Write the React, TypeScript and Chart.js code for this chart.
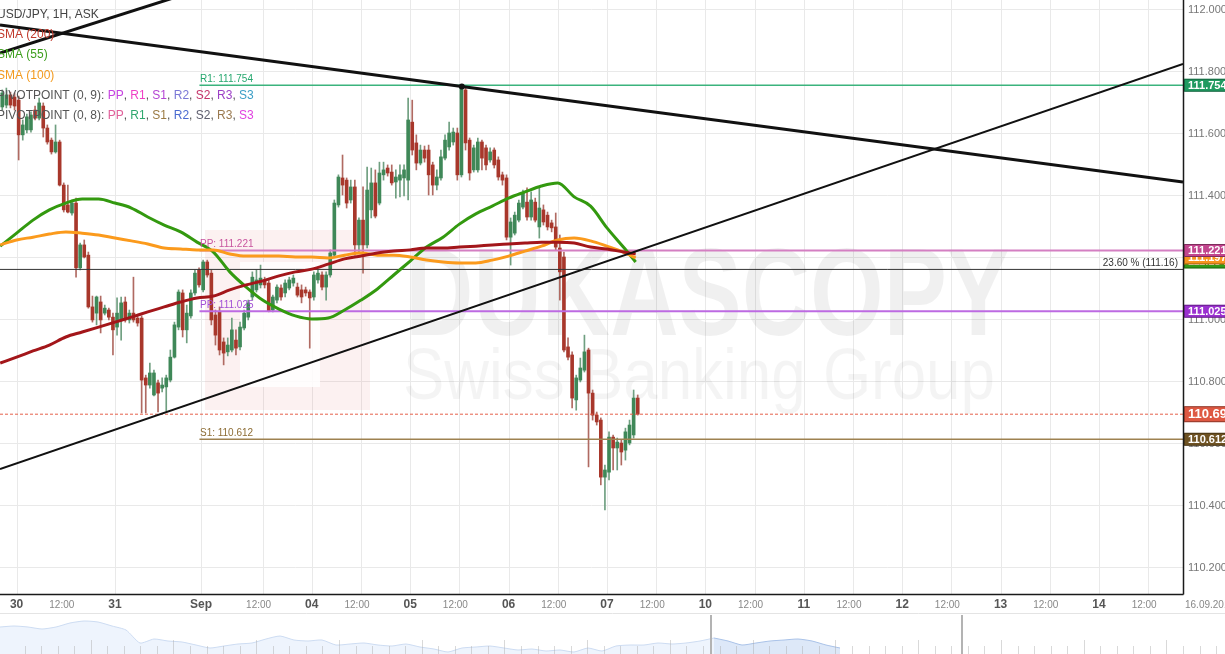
import React, { useEffect, useRef } from 'react';
import { Chart, registerables } from 'chart.js';

Chart.register(...registerables);

// ---- candle data (hourly, USD/JPY ask) ----
const FIRST_SLOT = -4; // slot of the first candle (hours from 30 Aug 00:00, weekend removed)

const opens = [
  111.684, 111.690, 111.723, 111.716, 111.706, 111.594, 111.610, 111.610, 111.674, 111.648,
  111.687, 111.616, 111.577, 111.539, 111.571, 111.432, 111.368, 111.342, 111.374, 111.165,
  111.239, 111.206, 111.039, 111.019, 111.055, 111.019, 111.029, 111.006, 110.974, 110.997,
  111.055, 110.997, 111.019, 111.003, 111.003, 110.810, 110.787, 110.755, 110.794, 110.777,
  110.781, 110.803, 110.877, 110.974, 111.084, 110.965, 111.010, 111.084, 111.158, 111.094,
  111.184, 111.148, 111.013, 111.023, 110.926, 110.894, 110.900, 110.932, 110.910, 110.971,
  111.006, 111.071, 111.094, 111.110, 111.126, 111.116, 111.029, 111.061, 111.100, 111.084,
  111.100, 111.116, 111.103, 111.094, 111.094, 111.087, 111.071, 111.126, 111.142, 111.103,
  111.142, 111.206, 111.368, 111.455, 111.448, 111.384, 111.426, 111.239, 111.319, 111.239,
  111.352, 111.439, 111.374, 111.465, 111.487, 111.474, 111.442, 111.448, 111.455, 111.448,
  111.635, 111.568, 111.503, 111.545, 111.545, 111.497, 111.432, 111.455, 111.519, 111.555,
  111.571, 111.600, 111.465, 111.739, 111.577, 111.481, 111.481, 111.571, 111.552, 111.513,
  111.545, 111.513, 111.465, 111.455, 111.264, 111.277, 111.319, 111.361, 111.377, 111.329,
  111.377, 111.297, 111.352, 111.335, 111.310, 111.297, 111.229, 111.200, 110.910, 110.884,
  110.739, 110.803, 110.835, 110.900, 110.761, 110.690, 110.674, 110.490, 110.506, 110.619,
  110.584, 110.600, 110.577, 110.600, 110.626, 110.745,
];
const highs = [
  111.739, 111.745, 111.732, 111.729, 111.719, 111.642, 111.661, 111.668, 111.687, 111.713,
  111.697, 111.626, 111.584, 111.626, 111.577, 111.439, 111.432, 111.384, 111.390, 111.245,
  111.255, 111.216, 111.074, 111.074, 111.074, 111.045, 111.035, 111.019, 111.068, 111.071,
  111.071, 111.029, 111.135, 111.013, 111.010, 110.819, 110.858, 110.835, 110.803, 110.810,
  110.819, 110.900, 110.990, 111.094, 111.094, 111.045, 111.094, 111.158, 111.165, 111.190,
  111.190, 111.158, 111.029, 111.039, 110.939, 110.939, 111.003, 110.965, 110.990, 111.029,
  111.061, 111.152, 111.158, 111.174, 111.135, 111.126, 111.077, 111.110, 111.110, 111.126,
  111.135, 111.142, 111.116, 111.110, 111.103, 111.094, 111.152, 111.158, 111.152, 111.152,
  111.223, 111.384, 111.465, 111.529, 111.455, 111.448, 111.448, 111.326, 111.426, 111.490,
  111.487, 111.481, 111.506, 111.506, 111.497, 111.497, 111.481, 111.497, 111.497, 111.713,
  111.706, 111.594, 111.561, 111.558, 111.561, 111.506, 111.481, 111.545, 111.594, 111.635,
  111.616, 111.616, 111.752, 111.745, 111.584, 111.561, 111.584, 111.577, 111.561, 111.552,
  111.552, 111.523, 111.474, 111.465, 111.326, 111.345, 111.384, 111.416, 111.423, 111.410,
  111.390, 111.423, 111.368, 111.345, 111.319, 111.342, 111.271, 111.216, 110.939, 110.894,
  110.819, 110.874, 110.948, 110.906, 110.771, 110.700, 110.681, 110.529, 110.636, 110.626,
  110.616, 110.610, 110.648, 110.674, 110.771, 110.755,
];
const lows = [
  111.674, 111.681, 111.681, 111.674, 111.513, 111.577, 111.600, 111.603, 111.642, 111.642,
  111.587, 111.564, 111.532, 111.535, 111.429, 111.345, 111.342, 111.335, 111.135, 111.158,
  111.197, 111.035, 110.990, 110.981, 110.955, 111.013, 110.997, 110.884, 110.948, 110.932,
  110.990, 110.987, 110.990, 110.977, 110.697, 110.697, 110.777, 110.752, 110.700, 110.765,
  110.703, 110.797, 110.874, 110.965, 110.942, 110.923, 111.003, 111.077, 111.103, 111.087,
  111.135, 110.981, 110.916, 110.884, 110.852, 110.881, 110.894, 110.884, 110.900, 110.965,
  110.997, 111.061, 111.087, 111.100, 111.100, 111.023, 111.023, 111.052, 111.061, 111.071,
  111.094, 111.106, 111.071, 111.052, 111.074, 110.906, 111.061, 111.116, 111.094, 111.061,
  111.135, 111.200, 111.361, 111.400, 111.358, 111.374, 111.206, 111.216, 111.148, 111.229,
  111.326, 111.326, 111.368, 111.448, 111.461, 111.432, 111.390, 111.394, 111.397, 111.384,
  111.529, 111.481, 111.497, 111.506, 111.400, 111.400, 111.416, 111.448, 111.513, 111.545,
  111.561, 111.448, 111.458, 111.545, 111.448, 111.474, 111.474, 111.481, 111.481, 111.506,
  111.487, 111.448, 111.432, 111.255, 111.174, 111.271, 111.313, 111.355, 111.319, 111.319,
  111.313, 111.261, 111.303, 111.287, 111.281, 111.223, 111.061, 110.894, 110.868, 110.713,
  110.706, 110.797, 110.829, 110.523, 110.674, 110.658, 110.465, 110.384, 110.481, 110.513,
  110.513, 110.529, 110.545, 110.594, 110.616, 110.690,
];
const closes = [
  111.729, 111.723, 111.690, 111.687, 111.594, 111.626, 111.652, 111.658, 111.648, 111.697,
  111.616, 111.571, 111.539, 111.571, 111.432, 111.352, 111.345, 111.374, 111.165, 111.239,
  111.200, 111.039, 110.997, 111.071, 110.997, 111.035, 111.006, 110.965, 111.019, 111.052,
  110.997, 111.019, 110.997, 110.987, 110.803, 110.787, 110.826, 110.826, 110.761, 110.787,
  110.810, 110.877, 110.981, 111.087, 110.965, 111.019, 111.084, 111.148, 111.110, 111.184,
  111.142, 110.997, 110.948, 110.900, 110.890, 110.916, 110.965, 110.906, 110.974, 111.019,
  111.052, 111.135, 111.126, 111.132, 111.110, 111.026, 111.071, 111.103, 111.071, 111.116,
  111.126, 111.132, 111.077, 111.071, 111.084, 111.068, 111.142, 111.148, 111.103, 111.142,
  111.213, 111.374, 111.458, 111.432, 111.374, 111.426, 111.239, 111.319, 111.239, 111.416,
  111.439, 111.332, 111.471, 111.481, 111.471, 111.439, 111.458, 111.465, 111.481, 111.642,
  111.545, 111.503, 111.545, 111.519, 111.465, 111.432, 111.458, 111.523, 111.577, 111.600,
  111.603, 111.465, 111.745, 111.568, 111.471, 111.552, 111.571, 111.519, 111.497, 111.539,
  111.497, 111.458, 111.448, 111.264, 111.313, 111.335, 111.374, 111.406, 111.329, 111.384,
  111.319, 111.358, 111.313, 111.297, 111.294, 111.232, 111.152, 110.900, 110.877, 110.745,
  110.810, 110.842, 110.894, 110.761, 110.690, 110.668, 110.490, 110.513, 110.619, 110.584,
  110.603, 110.571, 110.636, 110.658, 110.745, 110.693,
];

// ---- moving averages, read at sample slots ----
const smaSlots = [-4, 0, 4, 8, 12, 16, 20, 24, 28, 32, 36, 40, 44, 48, 52, 56, 60, 64, 68, 72,
  76, 80, 84, 88, 92, 96, 100, 104, 108, 112, 116, 120, 124, 128, 132, 136, 140, 144, 148, 151];
const sma200 = [110.858, 110.877, 110.897, 110.916, 110.942, 110.958, 110.974, 110.990, 111.006, 111.023,
  111.039, 111.055, 111.068, 111.074, 111.094, 111.110, 111.123, 111.139, 111.152, 111.161,
  111.177, 111.194, 111.203, 111.213, 111.219, 111.223, 111.229, 111.229, 111.232, 111.235,
  111.239, 111.242, 111.245, 111.248, 111.248, 111.245, 111.232, 111.226, 111.216, 111.210];
const sma55 = [111.235, 111.277, 111.319, 111.352, 111.374, 111.387, 111.387, 111.374, 111.358, 111.329,
  111.303, 111.281, 111.248, 111.216, 111.152, 111.103, 111.061, 111.032, 111.010, 111.000,
  111.003, 111.029, 111.061, 111.097, 111.142, 111.187, 111.232, 111.264, 111.306, 111.339,
  111.364, 111.390, 111.410, 111.429, 111.439, 111.394, 111.364, 111.294, 111.232, 111.184];
const sma100 = [111.239, 111.255, 111.264, 111.274, 111.281, 111.277, 111.271, 111.261, 111.252, 111.242,
  111.229, 111.226, 111.223, 111.223, 111.210, 111.203, 111.203, 111.203, 111.200, 111.200,
  111.197, 111.206, 111.213, 111.206, 111.206, 111.200, 111.190, 111.184, 111.181, 111.181,
  111.190, 111.203, 111.219, 111.235, 111.255, 111.261, 111.252, 111.235, 111.216, 111.197];

// ---- levels ----
const pivotNames = ['R1', 'PP', 'PP', 'S1'];
const pivotLevels = [111.754, 111.221, 111.025, 110.612];
const pivotLineColors = ['#3bb37d', '#d47fc2', '#bd6ae2', '#9e8150'];
const pivotTextColors = ['#27a86f', '#c8559f', '#a24fd6', '#8d6d35'];
const pivotBoxColors = ['#1f9a60', '#c2458e', '#9a30cf', '#6e5222'];
const PIVOT_START = 44.6;
const lastPrice = 110.693;
const fibLevel = 111.16;
const fibLabel = '23.60 % (111.16)';

// trend lines [slot, price]
const downTrendSlots = [-4.05, 108.6, 284.5];
const downTrendPrices = [111.948, 111.750, 111.442];
const upTrendSlots = [-4.05, 284.5];
const upTrendPrices = [110.516, 111.823];
const channelSlots = [-4.05, 70];
const channelPrices = [111.858, 112.169];

// ---- axes ----
const X_MIN = -4.05;
const X_MAX = 284.5;
const Y_MIN = 110.113;
const Y_MAX = 112.029;
const yTickValues = [110.2, 110.4, 110.6, 110.8, 111.0, 111.2, 111.4, 111.6, 111.8, 112.0];
const xTickSlots = [0, 12, 24, 45, 60, 72, 84, 96, 108, 120, 132, 144, 156, 168, 180, 192, 204, 216, 228, 240, 252, 264, 276];
const xTickLabels = ['30', '12:00', '31', 'Sep', '12:00', '04', '12:00', '05', '12:00', '06', '12:00', '07', '12:00',
  '10', '12:00', '11', '12:00', '12', '12:00', '13', '12:00', '14', '12:00'];
const gridSlots = [0, 24, 45, 60, 72, 84, 96, 108, 120, 132, 144, 156, 168, 180, 192, 204, 216, 228, 240, 252, 264, 276];
const rightDateLabel = '16.09.2018';

// ---- navigator ----
const navValues = [111.35, 111.40, 111.35, 111.25, 111.35, 111.55, 111.65, 111.60, 111.40, 111.20,
  110.55, 110.75, 110.65, 110.60, 110.45, 110.30, 110.40, 110.50, 110.55, 110.75,
  110.90, 110.70, 110.65, 110.70, 110.45, 110.50, 110.55, 110.45, 110.40, 110.50,
  110.35, 110.25, 110.10, 110.30, 110.35, 110.40, 110.30, 110.20, 110.25, 110.15,
  110.20, 110.10, 110.30, 110.15, 110.40, 110.45, 110.45, 110.55, 110.50, 110.55,
  110.65, 110.80, 110.65, 110.45, 110.55, 110.65, 110.70, 110.75, 110.65, 110.45, 110.30];
const NAV_WINDOW_START = 50.8;
const NAV_WINDOW_END = 68.7;
const NAV_X_MAX = 87.5;

const FONT = '"Liberation Sans", Arial, Helvetica, sans-serif';

export default function App() {
  const mainRef = useRef<HTMLCanvasElement | null>(null);
  const navRef = useRef<HTMLCanvasElement | null>(null);

  useEffect(() => {
    if (!mainRef.current || !navRef.current) return;
    const slotX = opens.map((_, i) => FIRST_SLOT + i + 0.5);
    const isUp = opens.map((o, i) => closes[i] >= o);

    const hline = (level: number, from: number, color: string, width: number, dash: number[] = [], order = 12) => ({
      type: 'line',
      data: [{ x: from, y: level }, { x: X_MAX, y: level }],
      borderColor: color,
      borderWidth: width,
      borderDash: dash,
      pointRadius: 0,
      fill: false,
      order,
      clip: 0,
    });
    const pts = (xs: number[], ys: number[]) => xs.map((x, i) => ({ x, y: ys[i] }));
    const smaLine = (vals: number[], color: string) => ({
      type: 'line',
      data: pts(smaSlots, vals),
      borderColor: color,
      borderWidth: 3,
      pointRadius: 0,
      cubicInterpolationMode: 'monotone',
      fill: false,
      order: 6,
      clip: 0,
    });

    const datasets: any[] = [
      {
        type: 'bar',
        data: slotX.map((x, i) => ({ x, y: [lows[i], highs[i]] })),
        backgroundColor: isUp.map((u) => (u ? '#6f9f80' : '#b06a62')),
        barThickness: 1,
        grouped: false,
        minBarLength: 1,
        order: 20,
      },
      {
        type: 'bar',
        data: slotX.map((x, i) => ({ x, y: [opens[i], closes[i]] })),
        backgroundColor: isUp.map((u) => (u ? '#3f8858' : '#a8372b')),
        barThickness: 3,
        grouped: false,
        minBarLength: 1,
        order: 19,
      },
      hline(fibLevel, X_MIN, '#333333', 1, [], 14),
      hline(lastPrice, X_MIN, '#e5604b', 1, [3, 2], 13),
      ...pivotLevels.map((lv, i) => hline(lv, PIVOT_START, pivotLineColors[i], i === 0 || i === 3 ? 1.5 : 2, [], 12)),
      smaLine(sma200, '#a3161a'),
      smaLine(sma100, '#fb9a1c'),
      smaLine(sma55, '#33990f'),
      {
        type: 'line', data: pts(upTrendSlots, upTrendPrices), borderColor: '#111', borderWidth: 2,
        pointRadius: 0, fill: false, order: 2, clip: 0,
      },
      {
        type: 'line', data: pts(channelSlots, channelPrices), borderColor: '#111', borderWidth: 3,
        pointRadius: 0, fill: false, order: 2, clip: 0,
      },
      {
        type: 'line', data: pts(downTrendSlots, downTrendPrices), borderColor: '#111', borderWidth: 3,
        pointRadius: [0, 3, 0], pointBackgroundColor: '#111', pointBorderWidth: 0, fill: false, order: 1, clip: 0,
      },
    ];

    const backPlugin = {
      id: 'back',
      beforeDatasetsDraw(chart: any) {
        const { ctx, chartArea: ca, scales } = chart;
        const xs = scales.x, ys = scales.y;
        ctx.save();
        ctx.strokeStyle = '#e9e9e9';
        ctx.lineWidth = 1;
        ctx.beginPath();
        yTickValues.forEach((v) => {
          const py = Math.round(ys.getPixelForValue(v)) + 0.5;
          ctx.moveTo(ca.left, py); ctx.lineTo(ca.right, py);
        });
        gridSlots.forEach((s) => {
          const px = Math.round(xs.getPixelForValue(s)) + 0.5;
          ctx.moveTo(px, ca.top); ctx.lineTo(px, ca.bottom);
        });
        ctx.stroke();

        // watermark logo block
        ctx.fillStyle = 'rgba(225,120,120,0.10)';
        ctx.fillRect(205, 230, 165, 180);
        ctx.fillStyle = 'rgba(255,255,255,0.85)';
        ctx.fillRect(240, 262, 80, 125);
        // watermark text
        ctx.fillStyle = 'rgba(0,0,0,0.06)';
        ctx.font = `bold 124px ${FONT}`;
        ctx.textBaseline = 'alphabetic';
        let w = ctx.measureText('DUKASCOPY').width;
        ctx.save();
        ctx.translate(405, 335);
        ctx.scale(605 / w, 1);
        ctx.fillText('DUKASCOPY', 0, 0);
        ctx.restore();
        ctx.fillStyle = 'rgba(0,0,0,0.045)';
        ctx.font = `72px ${FONT}`;
        w = ctx.measureText('Swiss Banking Group').width;
        ctx.save();
        ctx.translate(403, 399);
        ctx.scale(592 / w, 1);
        ctx.fillText('Swiss Banking Group', 0, 0);
        ctx.restore();
        ctx.restore();
      },
      afterDatasetsDraw(chart: any) {
        const { ctx, chartArea: ca, scales } = chart;
        const xs = scales.x, ys = scales.y;
        ctx.save();
        // level labels
        ctx.font = `10px ${FONT}`;
        ctx.textBaseline = 'alphabetic';
        ctx.textAlign = 'left';
        pivotLevels.forEach((lv, i) => {
          ctx.fillStyle = pivotTextColors[i];
          ctx.fillText(`${pivotNames[i]}: ${lv.toFixed(3)}`, xs.getPixelForValue(PIVOT_START) + 0.5, ys.getPixelForValue(lv) - 3);
        });
        ctx.fillStyle = '#333';
        ctx.textAlign = 'right';
        ctx.fillText(fibLabel, ca.right - 5, ys.getPixelForValue(fibLevel) - 3);

        // axis lines
        ctx.strokeStyle = '#1a1a1a';
        ctx.lineWidth = 1.5;
        ctx.beginPath();
        ctx.moveTo(ca.left, ca.bottom + 0.5); ctx.lineTo(ca.right + 0.5, ca.bottom + 0.5);
        ctx.moveTo(ca.right + 0.5, ca.top); ctx.lineTo(ca.right + 0.5, ca.bottom + 0.5);
        ctx.stroke();

        // right axis tick labels
        ctx.textAlign = 'left';
        ctx.textBaseline = 'middle';
        ctx.font = `11px ${FONT}`;
        ctx.fillStyle = '#777';
        yTickValues.forEach((v) => ctx.fillText(v.toFixed(3), ca.right + 5, ys.getPixelForValue(v) + 0.5));

        const box = (val: number, fill: string, fs = 11, h = 13) => {
          const py = ys.getPixelForValue(val);
          ctx.fillStyle = fill;
          ctx.fillRect(ca.right + 1, py - h / 2, 60, h);
          ctx.strokeStyle = 'rgba(0,0,0,0.35)';
          ctx.lineWidth = 1;
          ctx.strokeRect(ca.right + 1.5, py - h / 2 + 0.5, 60, h - 1);
          ctx.fillStyle = '#fff';
          ctx.font = `bold ${fs}px ${FONT}`;
          ctx.fillText(val.toFixed(3), ca.right + 5, py + 0.5);
        };
        box(sma55[sma55.length - 1], '#2f9a17');
        box(sma100[sma100.length - 1], '#f7941d');
        box(pivotLevels[1], pivotBoxColors[1]);
        box(pivotLevels[0], pivotBoxColors[0]);
        box(pivotLevels[2], pivotBoxColors[2]);
        box(pivotLevels[3], pivotBoxColors[3]);
        box(lastPrice, '#de5842', 13, 16);

        // bottom labels
        ctx.textAlign = 'center';
        xTickSlots.forEach((s, i) => {
          const lab = xTickLabels[i];
          const px = xs.getPixelForValue(s);
          if (lab === '12:00') {
            ctx.font = `10px ${FONT}`;
            ctx.fillStyle = '#888';
            ctx.fillText(lab, px - 4, ca.bottom + 11);
          } else {
            ctx.font = `bold 12px ${FONT}`;
            ctx.fillStyle = '#555';
            ctx.fillText(lab, px, ca.bottom + 11);
          }
        });
        ctx.textAlign = 'left';
        ctx.font = `10px ${FONT}`;
        ctx.fillStyle = '#888';
        ctx.fillText(rightDateLabel, ca.right + 2, ca.bottom + 11);

        // legend
        ctx.font = `12px ${FONT}`;
        ctx.textBaseline = 'middle';
        const seg = (x0: number, yy: number, parts: [string, string][]) => {
          let xx = x0;
          parts.forEach(([t, c]) => {
            ctx.fillStyle = c;
            ctx.fillText(t, xx, yy);
            xx += ctx.measureText(t).width;
          });
        };
        const g = '#555';
        seg(-3, 15, [['USD/JPY, 1H, ASK', '#444']]);
        seg(-3, 35, [['SMA (200)', '#c0392b']]);
        seg(-3, 55, [['SMA (55)', '#3c9e1c']]);
        seg(-3, 76, [['SMA (100)', '#f39a1e']]);
        seg(-3, 96, [['PIVOTPOINT (0, 9): ', g], ['PP', '#c643e0'], [', ', g], ['R1', '#f03fc6'], [', ', g],
          ['S1', '#b444d4'], [', ', g], ['R2', '#7a78d6'], [', ', g], ['S2', '#c5346a'], [', ', g],
          ['R3', '#9c40c6'], [', ', g], ['S3', '#3a9ec6']]);
        seg(-3, 116, [['PIVOTPOINT (0, 8): ', g], ['PP', '#e0609a'], [', ', g], ['R1', '#2fa86e'], [', ', g],
          ['S1', '#9a7a42'], [', ', g], ['R2', '#4a6ad0'], [', ', g], ['S2', '#5e5e6e'], [', ', g],
          ['R3', '#9a7a50'], [', ', g], ['S3', '#e040e0']]);
        ctx.restore();
      },
    };

    const main = new Chart(mainRef.current, {
      type: 'bar',
      data: { datasets },
      options: {
        responsive: false,
        animation: false,
        events: [],
        layout: { padding: { left: 0, top: 0, right: 42, bottom: 60 } },
        plugins: { legend: { display: false }, tooltip: { enabled: false } },
        scales: {
          x: { type: 'linear', display: false, min: X_MIN, max: X_MAX, offset: false },
          y: { type: 'linear', display: false, min: Y_MIN, max: Y_MAX },
        },
      },
      plugins: [backPlugin],
    } as any);

    const navIdx = navValues.map((_, i) => i);
    const splitAt = Math.ceil(NAV_WINDOW_START);
    const navPlugin = {
      id: 'navdeco',
      afterDatasetsDraw(chart: any) {
        const { ctx, scales } = chart;
        const xs = scales.x;
        ctx.save();
        ctx.strokeStyle = '#e4e4e4';
        ctx.lineWidth = 1;
        ctx.beginPath();
        ctx.moveTo(0, 0.5); ctx.lineTo(1225, 0.5);
        ctx.stroke();
        ctx.strokeStyle = 'rgba(170,170,170,0.45)';
        ctx.beginPath();
        for (let i = 0; i < 74; i++) {
          const px = Math.round(xs.getPixelForValue((24.5 + 16.55 * i) / 14)) + 0.5;
          const tall = (i - 4) % 5 === 0;
          ctx.moveTo(px, tall ? 27 : 33); ctx.lineTo(px, 41);
        }
        ctx.stroke();
        ctx.fillStyle = '#b3b3b3';
        [NAV_WINDOW_START, NAV_WINDOW_END].forEach((v) => {
          const px = Math.round(xs.getPixelForValue(v));
          ctx.fillRect(px - 1, 2, 2, 39);
        });
        ctx.restore();
      },
    };
    const nav = new Chart(navRef.current, {
      type: 'line',
      data: {
        datasets: [
          {
            data: navIdx.slice(0, splitAt + 1).map((i) => ({ x: i, y: navValues[i] })),
            borderColor: '#cddcf2', borderWidth: 1, backgroundColor: '#eef4fd', fill: 'start', pointRadius: 0, tension: 0.2,
          },
          {
            data: navIdx.slice(splitAt).map((i) => ({ x: i, y: navValues[i] })),
            borderColor: '#a9c2e8', borderWidth: 1, backgroundColor: '#dde8f8', fill: 'start', pointRadius: 0, tension: 0.2,
          },
        ],
      },
      options: {
        responsive: false,
        animation: false,
        events: [],
        layout: { padding: 0 },
        plugins: { legend: { display: false }, tooltip: { enabled: false } },
        scales: {
          x: { type: 'linear', display: false, min: 0, max: NAV_X_MAX },
          y: { type: 'linear', display: false, min: 110.0, max: 112.05 },
        },
      },
      plugins: [navPlugin],
    } as any);

    return () => {
      main.destroy();
      nav.destroy();
    };
  }, []);

  return (
    <div style={{ position: 'fixed', left: 0, top: 0, width: 1225, height: 654, background: '#fff', overflow: 'hidden' }}>
      <canvas ref={mainRef} width={1225} height={654} style={{ position: 'absolute', left: 0, top: 0 }} />
      <canvas ref={navRef} width={1225} height={41} style={{ position: 'absolute', left: 0, top: 613 }} />
    </div>
  );
}
